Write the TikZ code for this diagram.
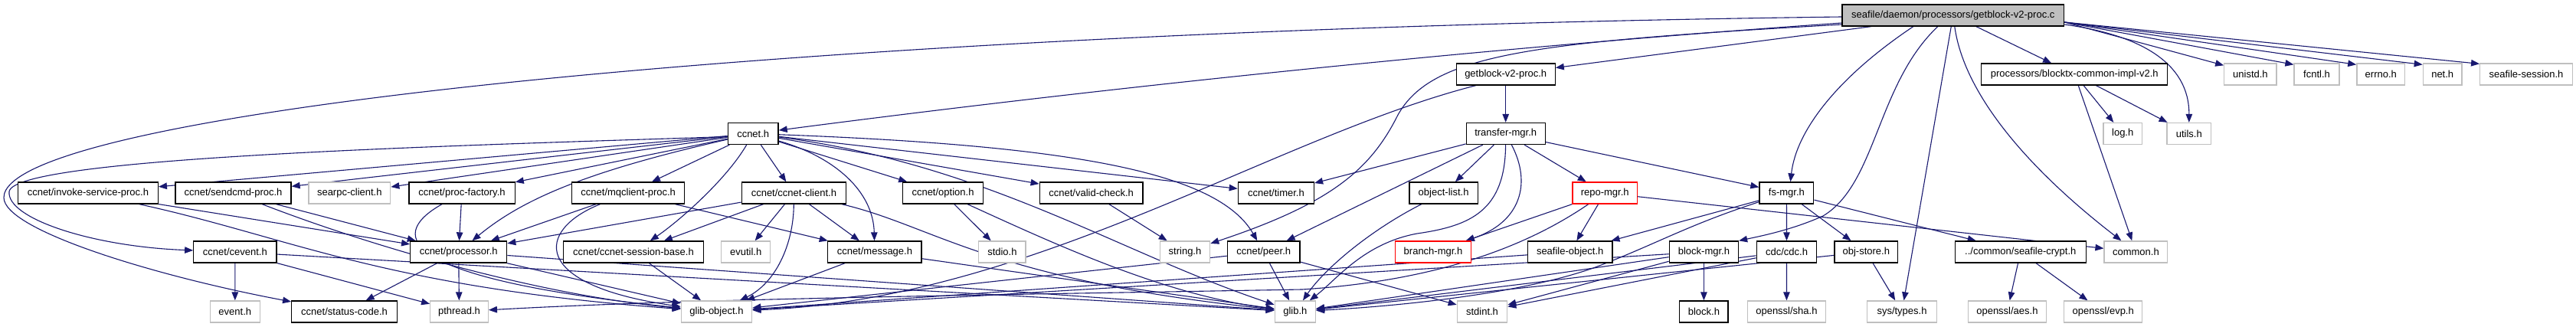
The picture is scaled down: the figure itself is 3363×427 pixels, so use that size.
\documentclass[tikz,border=0pt]{standalone}
\usepackage{fontspec}
\setmainfont{Liberation Sans}
\usetikzlibrary{arrows.meta,backgrounds}
\definecolor{edgecol}{HTML}{191970}
\definecolor{graybd}{HTML}{BFBFBF}
\definecolor{srcfill}{HTML}{BFBFBF}
\begin{document}
\begin{tikzpicture}[x=1pt,y=-1pt,
  box/.style={rectangle, minimum height=28pt, inner sep=0pt, line width=1.3pt, fill=white, font=\fontsize{13}{15}\selectfont, text=black},
  bk/.style={box, draw=black},
  gy/.style={box, draw=graybd},
  rd/.style={box, draw=red},
  srcbox/.style={box, draw=black, fill=srcfill},
  dep/.style={draw=edgecol, line width=1.1pt, -{Triangle[length=11pt,width=8.5pt]}}]
\useasboundingbox (0,0) rectangle (3363,427);
% ---------------- nodes ----------------
\node[srcbox, minimum width=289.6pt] (src) at (2549.8,20) {seafile/daemon/processors/getblock-v2-proc.c};
% row 2
\node[bk, minimum width=128.9pt] (getblockh) at (1965.7,97) {getblock-v2-proc.h};
\node[bk, minimum width=243pt] (blocktx) at (2708.2,97) {processors/blocktx-common-impl-v2.h};
\node[gy, minimum width=68.2pt] (unistd) at (2937.9,97) {unistd.h};
\node[gy, minimum width=58.9pt] (fcntl) at (3024.5,97) {fcntl.h};
\node[gy, minimum width=62.9pt] (errno) at (3108.3,97) {errno.h};
\node[gy, minimum width=50.7pt] (net) at (3188.7,97) {net.h};
\node[gy, minimum width=120.6pt] (session) at (3298,97) {seafile-session.h};
% row 3
\node[bk, minimum width=65.8pt] (ccnet) at (983.2,174.5) {ccnet.h};
\node[bk, minimum width=102.9pt] (transfer) at (1965.7,174.5) {transfer-mgr.h};
\node[gy, minimum width=50.5pt] (log) at (2771.2,174.5) {log.h};
\node[gy, minimum width=57.5pt] (utils) at (2857.8,174.5) {utils.h};
% row 4
\node[bk, minimum width=182.8pt] (invoke) at (114.9,252) {ccnet/invoke-service-proc.h};
\node[bk, minimum width=151pt] (sendcmd) at (304.5,252) {ccnet/sendcmd-proc.h};
\node[gy, minimum width=106.8pt] (searpc) at (456.3,252) {searpc-client.h};
\node[bk, minimum width=138.3pt] (procfactory) at (603,252) {ccnet/proc-factory.h};
\node[bk, minimum width=147pt] (mqclient) at (820.2,252) {ccnet/mqclient-proc.h};
\node[bk, minimum width=136.2pt] (ccnetclient) at (1036.4,252) {ccnet/ccnet-client.h};
\node[bk, minimum width=104.9pt] (option) at (1231,252) {ccnet/option.h};
\node[bk, minimum width=134.7pt] (validcheck) at (1424.6,252) {ccnet/valid-check.h};
\node[bk, minimum width=99.1pt] (timer) at (1665.9,252) {ccnet/timer.h};
\node[bk, minimum width=89.1pt] (objectlist) at (1884.6,252) {object-list.h};
\node[rd, minimum width=84.2pt] (repo) at (2095.2,252) {repo-mgr.h};
\node[bk, minimum width=70.8pt] (fsmgr) at (2332.4,252) {fs-mgr.h};
% row 5
\node[bk, minimum width=108.2pt] (cevent) at (306.9,329) {ccnet/cevent.h};
\node[bk, minimum width=126pt] (processor) at (598.7,329) {ccnet/processor.h};
\node[bk, minimum width=182.6pt] (sessionbase) at (827,329) {ccnet/ccnet-session-base.h};
\node[gy, minimum width=64pt] (evutil) at (973.7,329) {evutil.h};
\node[bk, minimum width=122.3pt] (message) at (1141.9,329) {ccnet/message.h};
\node[gy, minimum width=61.3pt] (stdio) at (1308.4,329) {stdio.h};
\node[gy, minimum width=65.3pt] (string) at (1547,329) {string.h};
\node[bk, minimum width=94.7pt] (peer) at (1649.7,329) {ccnet/peer.h};
\node[rd, minimum width=98.6pt] (branch) at (1871,329) {branch-mgr.h};
\node[bk, minimum width=110.5pt] (seafileobject) at (2049.7,329) {seafile-object.h};
\node[bk, minimum width=90.2pt] (blockmgr) at (2224.4,329) {block-mgr.h};
\node[bk, minimum width=78.4pt] (cdc) at (2332.5,329) {cdc/cdc.h};
\node[bk, minimum width=82.7pt] (objstore) at (2436.3,329) {obj-store.h};
\node[bk, minimum width=171.1pt] (crypt) at (2637.8,329) {../common/seafile-crypt.h};
\node[gy, minimum width=82.7pt] (common) at (2788.4,329) {common.h};
% row 6
\node[gy, minimum width=65pt] (event) at (306.8,407) {event.h};
\node[bk, minimum width=137.8pt] (statuscode) at (449.6,407) {ccnet/status-code.h};
\node[gy, minimum width=75.6pt] (pthread) at (599.5,407) {pthread.h};
\node[gy, minimum width=92.4pt] (glibobject) at (935.5,407) {glib-object.h};
\node[gy, minimum width=53.2pt] (glib) at (1690.9,407) {glib.h};
\node[gy, minimum width=65.4pt] (stdint) at (1935,407) {stdint.h};
\node[bk, minimum width=63.3pt] (block) at (2224.4,407) {block.h};
\node[gy, minimum width=102.1pt] (sha) at (2332.4,407) {openssl/sha.h};
\node[gy, minimum width=90.4pt] (systypes) at (2483,407) {sys/types.h};
\node[gy, minimum width=102.5pt] (aes) at (2620.4,407) {openssl/aes.h};
\node[gy, minimum width=102.2pt] (evp) at (2745.7,407) {openssl/evp.h};
% ---------------- edges ----------------
\begin{pgfonlayer}{background}
\fill[white] (0,0) rectangle (3363,427);
% from src
\draw[dep] ([yshift=-2pt]src.west) .. controls (1000,40) and (5,150) .. (5,258) .. controls (5,300) and (200,360) .. (statuscode);
\draw[dep] ([yshift=-10pt]src.west) .. controls (1900,65) and (1400,120) .. (ccnet);
\draw[dep] ([yshift=-12pt]src.west) .. controls (2000,55) and (1870,70) .. (1825,150) .. controls (1790,220) and (1740,265) .. (string);
\draw[dep] ([xshift=-107pt]src.south) -- (getblockh);
\draw[dep] ([xshift=-52pt]src.south) .. controls (2400,100) and (2345,170) .. ([xshift=5pt]fsmgr.north);
\draw[dep] ([xshift=-20pt]src.south) .. controls (2450,110) and (2450,240) .. (2380,282) .. controls (2340,300) and (2300,308) .. (blockmgr.north east);
\draw[dep] (src) -- (systypes);
\draw[dep] ([xshift=2pt]src.south) .. controls (2565,130) and (2660,230) .. (common);
\draw[dep] (src) -- (blocktx);
\draw[dep] ([yshift=-9pt]src.east) -- ([yshift=-3pt]unistd.north west);
\draw[dep] ([yshift=-9pt]src.east) -- ([yshift=-2pt]fcntl.north west);
\draw[dep] ([yshift=-9pt]src.east) -- ([yshift=-2pt]errno.north west);
\draw[dep] ([yshift=-9pt]src.east) -- ([yshift=-2pt]net.north west);
\draw[dep] ([yshift=-9pt]src.east) -- ([yshift=-1pt]session.north west);
\draw[dep] ([yshift=-12pt]src.east) .. controls (2790,45) and (2858,80) .. (utils);
% from ccnet.h
\draw[dep] ([yshift=-4pt]ccnet.west) .. controls (600,190) and (20,205) .. (12,250) .. controls (8,285) and (120,322) .. (cevent);
\draw[dep] (ccnet) -- (invoke);
\draw[dep] (ccnet) -- (sendcmd);
\draw[dep] (ccnet) -- (searpc);
\draw[dep] (ccnet) -- (procfactory);
\draw[dep] (ccnet) .. controls (760,225) and (680,262) .. (processor);
\draw[dep] (ccnet) -- (mqclient);
\draw[dep] (ccnet) .. controls (948,235) and (885,290) .. (sessionbase);
\draw[dep] (ccnet) -- (ccnetclient);
\draw[dep] (ccnet) .. controls (1090,205) and (1140,250) .. (message);
\draw[dep] (ccnet) -- (option);
\draw[dep] (ccnet) -- (validcheck);
\draw[dep] (ccnet) -- (timer);
\draw[dep] (ccnet) .. controls (1400,190) and (1590,225) .. (peer);
\draw[dep] (ccnet) .. controls (1290,215) and (1460,330) .. (glib);
% getblock / transfer
\draw[dep] (getblockh) -- (transfer);
\draw[dep] ([xshift=-39pt]getblockh.south) .. controls (1660,180) and (1350,390) .. (glibobject);
\draw[dep] (transfer) -- (timer);
\draw[dep] (transfer) -- (peer);
\draw[dep] (transfer) -- (objectlist);
\draw[dep] (transfer) .. controls (1965,275) and (1920,295) .. (1850,305) .. controls (1780,318) and (1745,365) .. (glib);
\draw[dep] (transfer) .. controls (2000,240) and (1985,290) .. (branch);
\draw[dep] (transfer) -- (repo);
\draw[dep] (transfer) -- (fsmgr);
% repo
\draw[dep] (repo) -- (branch);
\draw[dep] (repo) -- (seafileobject);
\draw[dep] (repo) -- (common);
\draw[dep] (repo) .. controls (2010,310) and (1900,365) .. (1700,378) .. controls (1300,385) and (900,390) .. (pthread);
% others row 4/5
\draw[dep] (objectlist) .. controls (1790,300) and (1730,350) .. (glib);
\draw[dep] (seafileobject) -- (glibobject);
\draw[dep] (fsmgr) -- (seafileobject);
\draw[dep] (fsmgr) -- (cdc);
\draw[dep] (fsmgr) -- (objstore);
\draw[dep] (fsmgr) -- (crypt);
\draw[dep] (fsmgr) .. controls (2200,295) and (2160,320) .. (2080,350) .. controls (1980,385) and (1820,400) .. (glib);
\draw[dep] (blockmgr) -- (block);
\draw[dep] (blockmgr) -- (glib);
\draw[dep] (blockmgr) -- (stdint);
\draw[dep] (blockmgr) -- (glibobject);
\draw[dep] (cdc) -- (sha);
\draw[dep] (cdc) -- (stdint);
\draw[dep] (cdc) -- (glib);
\draw[dep] (objstore) -- (systypes);
\draw[dep] (objstore) -- (glib);
\draw[dep] (crypt) -- (aes);
\draw[dep] (crypt) -- (evp);
\draw[dep] (blocktx) -- (log);
\draw[dep] (blocktx) -- (utils);
\draw[dep] (blocktx) -- (common);
\draw[dep] (peer) -- (glib);
\draw[dep] (peer) -- (stdint);
\draw[dep] (peer) -- (glibobject);
\draw[dep] (validcheck) -- (string);
\draw[dep] (option) -- (stdio);
\draw[dep] (option) .. controls (1380,320) and (1520,385) .. (glib);
\draw[dep] (message) -- (glibobject);
\draw[dep] (message) -- (glib);
\draw[dep] (ccnetclient) -- (processor);
\draw[dep] (ccnetclient) -- (sessionbase);
\draw[dep] (ccnetclient) -- (evutil);
\draw[dep] (ccnetclient) -- (message);
\draw[dep] (ccnetclient) .. controls (1036,320) and (1012,370) .. (glibobject);
\draw[dep] (ccnetclient) .. controls (1220,295) and (1290,365) .. (glib);
\draw[dep] (mqclient) -- (processor);
\draw[dep] (mqclient) -- (message);
\draw[dep] (mqclient) .. controls (700,300) and (690,372) .. (glibobject);
\draw[dep] (sessionbase) -- (glibobject);
\draw[dep] (processor) -- (pthread);
\draw[dep] (processor) -- (statuscode);
\draw[dep] (processor) -- (glibobject);
\draw[dep] (processor) -- (glib);
\draw[dep] (procfactory) -- (processor);
\draw[dep] (procfactory) .. controls (500,310) and (530,365) .. (glibobject);
\draw[dep] (invoke) -- (processor);
\draw[dep] (invoke) .. controls (380,310) and (500,375) .. (glibobject);
\draw[dep] (sendcmd) -- (processor);
\draw[dep] (sendcmd) .. controls (480,320) and (700,385) .. (glibobject);
\draw[dep] (cevent) -- (event);
\draw[dep] (cevent) -- (pthread);
\draw[dep] (cevent) -- (glib);
\end{pgfonlayer}
\end{tikzpicture}
\end{document}
